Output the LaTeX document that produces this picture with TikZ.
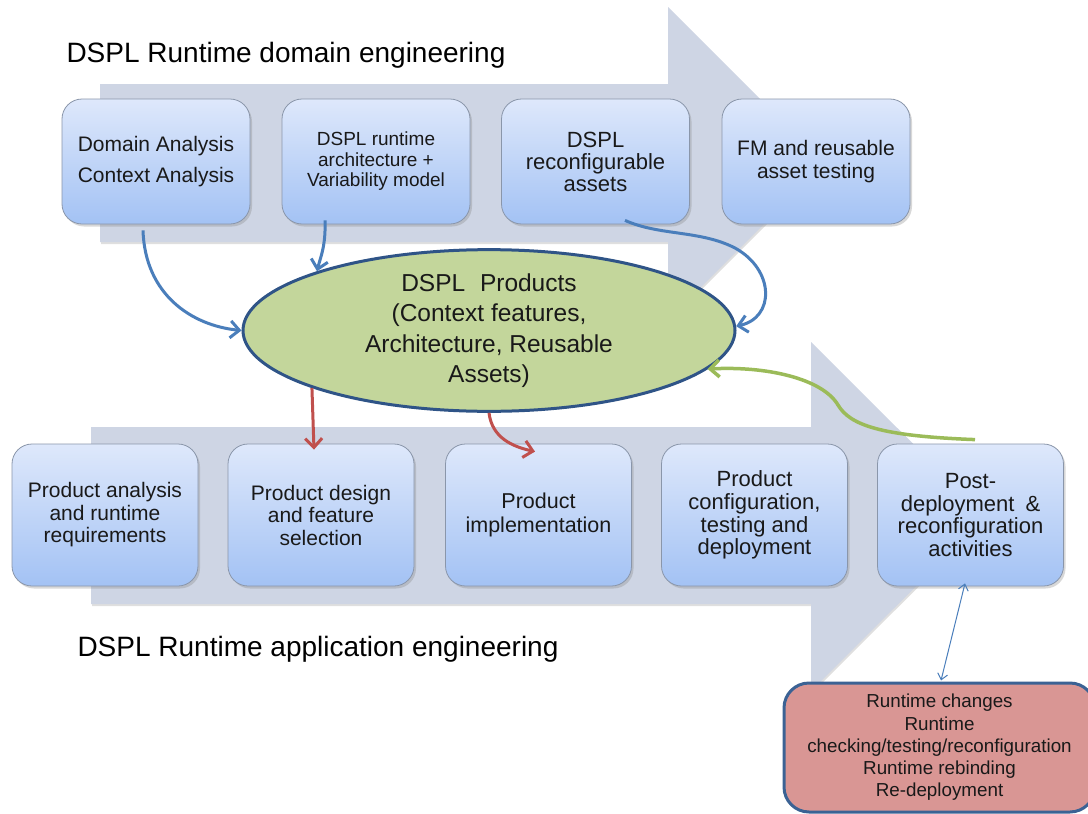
\documentclass[tikz,border=0pt]{standalone}
\usepackage{fontspec}
\setmainfont{Liberation Sans}
\usetikzlibrary{arrows.meta,shadows,calc,shapes.geometric}
\definecolor{shaft}{RGB}{206,213,228}
\definecolor{boxtop}{RGB}{222,232,251}
\definecolor{boxbot}{RGB}{163,194,244}
\definecolor{boxline}{RGB}{138,150,170}
\definecolor{ellfill}{RGB}{195,214,155}
\definecolor{ellline}{RGB}{47,84,135}
\definecolor{bluearr}{RGB}{74,126,187}
\definecolor{redarr}{RGB}{192,80,77}
\definecolor{greenarr}{RGB}{155,187,89}
\definecolor{redfill}{RGB}{217,150,148}
\definecolor{redline}{RGB}{59,98,148}
\begin{document}
\begin{tikzpicture}[x=1pt,y=-1pt,
  stepbox/.style={rectangle, rounded corners=20pt, draw=boxline, line width=0.8pt,
    top color=boxtop, bottom color=boxbot, inner sep=0pt, align=center, text=black!90,
    drop shadow={shadow xshift=2pt,shadow yshift=-2.5pt,opacity=0.3}},
  topbox/.style={stepbox, minimum width=188pt, minimum height=125pt, font=\fontsize{19}{20.5}\selectfont},
  botbox/.style={stepbox, minimum width=186pt, minimum height=142pt, font=\fontsize{21}{22.5}\selectfont},
  bigarrow/.style={fill=shaft, drop shadow={shadow xshift=1pt,shadow yshift=-2pt,opacity=0.25}},
  title/.style={anchor=base west, font=\fontsize{28}{30}\selectfont, text=black},
  bluea/.style={draw=bluearr, line width=3pt, -{Straight Barb[length=9pt,width=17pt]}},
  reda/.style={draw=redarr, line width=3pt, -{Straight Barb[length=9pt,width=17pt]}},
  greena/.style={draw=greenarr, line width=3.5pt, -{Straight Barb[length=9pt,width=17pt]}},
  thina/.style={draw=bluearr, line width=1pt, {Straight Barb[length=6pt,width=10pt]}-{Straight Barb[length=6pt,width=10pt]}}
]
\clip (0,0) rectangle (1088,814);
\fill[white] (0,0) rectangle (1088,814);

% big process arrows
\path[bigarrow] (100,84) -- (668,84) -- (668,7) -- (824.5,163.5) -- (668,320) -- (668,242) -- (100,242) -- cycle;
\path[bigarrow] (91,427) -- (811,427) -- (811,342) -- (986,516.5) -- (811,691) -- (811,604) -- (91,604) -- cycle;

% titles
\node[title] (t1) at (63,62) {DSPL Runtime domain engineering};
\node[title] (t2) at (74,656) {DSPL Runtime application engineering};

% top boxes
\node[topbox, font=\fontsize{21}{31}\selectfont] (b1) at (156,161.5) {Domain Analysis\\Context Analysis};
\node[topbox] (b2) at (376,161.5) {DSPL runtime\\architecture +\\Variability model};
\node[topbox, font=\fontsize{22}{22}\selectfont] (b3) at (595.5,161.5) {DSPL\\reconfigurable\\assets};
\node[topbox, font=\fontsize{21}{23}\selectfont] (b4) at (816,161.5) {FM and reusable\\asset testing};

% bottom boxes
\node[botbox] (c1) at (105,515) {Product analysis\\and runtime\\requirements};
\node[botbox] (c2) at (321,515) {Product design\\and feature\\selection};
\node[botbox, font=\fontsize{21.5}{24}\selectfont] (c3) at (538.5,515) {Product\\implementation};
\node[botbox, font=\fontsize{22}{22.7}\selectfont] (c4) at (754.5,515) {Product\\configuration,\\testing and\\deployment};
\node[botbox, font=\fontsize{22}{22.7}\selectfont] (c5) at (970.5,515) {Post-\\deployment\hspace{0.5em}\&\\reconfiguration\\activities};

% central ellipse
\node[ellipse, draw=ellline, line width=3pt, fill=ellfill, minimum width=492pt, minimum height=161pt,
  inner sep=0pt, align=center, font=\fontsize{24.5}{30.5}\selectfont, text=black!90] (ell) at (489,330.5)
  {DSPL\hspace{0.6em}Products\\(Context features,\\Architecture, Reusable\\Assets)};

% runtime box
\node[rectangle, rounded corners=25pt, draw=redline, line width=3pt, fill=redfill,
  minimum width=311pt, minimum height=129pt, inner sep=0pt, align=center,
  font=\fontsize{18.8}{22.2}\selectfont, text=black!90] (rbox) at (939.5,747.5)
  {Runtime changes\\Runtime\\checking/testing/reconfiguration\\Runtime rebinding\\Re-deployment};

% connectors
\draw[bluea] ($(b1.south)+(-13,6)$) .. controls ($(b1.south)+(-11,70)$) and ($(ell.west)+(-50,-5)$) .. (ell.west);
\draw[bluea] ($(b2.south)+(-51,-4)$) .. controls ($(b2.south)+(-50,22)$) and ($(b2.south)+(-56,34)$) .. (ell.161);
\draw[bluea] ($(b3.south)+(29.5,-4)$) .. controls (660,236) and (700,230) .. (735,248)
  .. controls (775,270) and (775,318) .. (ell.1);
\draw[reda] (ell.198) -- ($(c2.north)+(-7,6)$);
\draw[reda] (ell.south) .. controls ($(ell.south)+(3,25)$) and ($(c3.north)+(-26,3)$) .. ($(c3.north)+(-3.5,8)$);
\draw[greena] ($(c5.north)+(4.5,-4)$) .. controls (880,436) and (850,425) .. (838,405)
  .. controls (822,378) and (765,366) .. (ell.-10);
\draw[thina] ($(c5.south)+(-5.5,-3)$) -- ($(rbox.north)+(1.5,-1)$);
\end{tikzpicture}
\end{document}
